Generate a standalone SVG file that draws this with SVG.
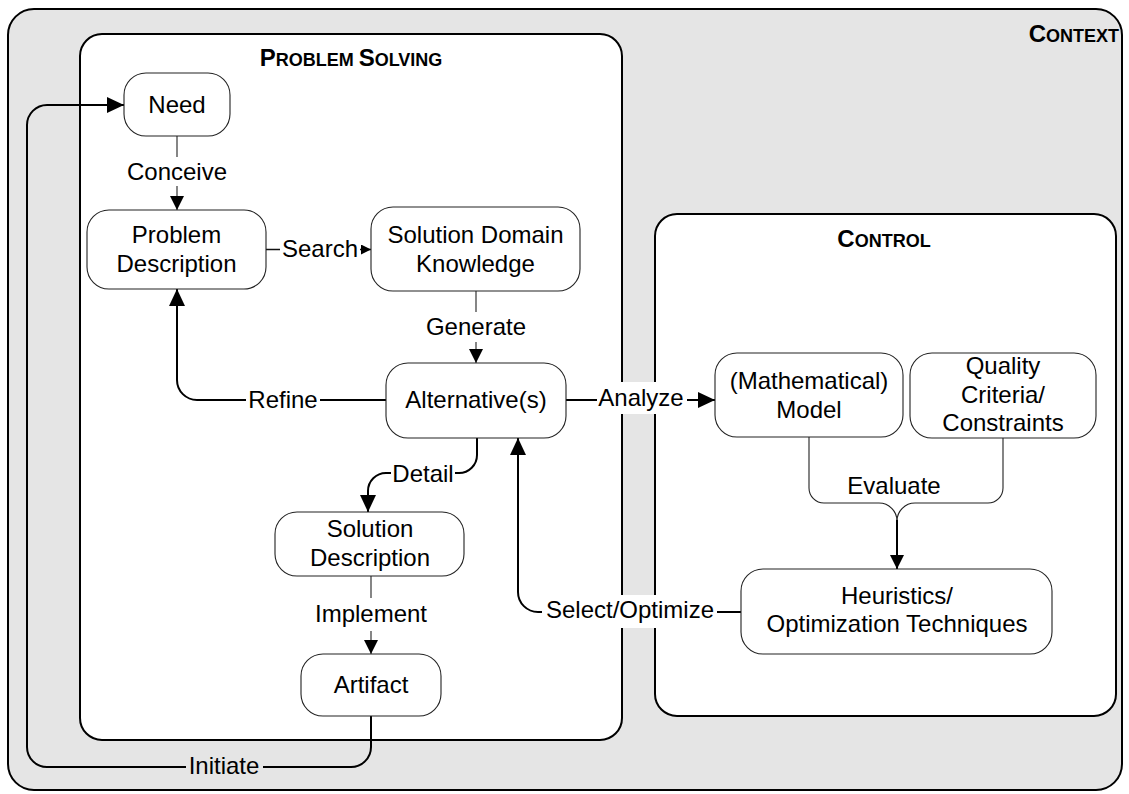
<svg xmlns="http://www.w3.org/2000/svg" width="1129" height="794" viewBox="0 0 1129 794">
  <style>
    .frame { fill: #fff; stroke: #000; stroke-width: 2; }
    .node { fill: #fff; stroke: #222; stroke-width: 1.1; }
    .t { font-family: "Liberation Sans", Arial, Helvetica, sans-serif; font-size: 24px; text-anchor: middle; fill: #000; }
    .title { font-family: "Liberation Sans", Arial, Helvetica, sans-serif; font-weight: bold; fill: #000; }
    .big { font-size: 24px; }
    .sc { font-size: 18px; }
    .thin { fill: none; stroke: #222; stroke-width: 1.1; }
    .thick { fill: none; stroke: #000; stroke-width: 2; }
    .mid { fill: none; stroke: #111; stroke-width: 1.5; }
    .lbl { fill: #fff; }
  </style>
  <defs>
    <marker id="arrowL" markerUnits="userSpaceOnUse" markerWidth="17" markerHeight="16" refX="17" refY="8" orient="auto">
      <path d="M0,0 L17,8 L0,16 Z" fill="#000"/>
    </marker>
    <marker id="arrowM" markerUnits="userSpaceOnUse" markerWidth="14" markerHeight="14" refX="14" refY="7" orient="auto">
      <path d="M0,0 L14,7 L0,14 Z" fill="#000"/>
    </marker>
    <marker id="arrowS" markerUnits="userSpaceOnUse" markerWidth="10" markerHeight="10" refX="10" refY="5" orient="auto">
      <path d="M0,0 L10,5 L0,10 Z" fill="#000"/>
    </marker>
  </defs>

  <!-- outer context frame -->
  <g id="context">
    <rect x="8" y="9" width="1114" height="781" rx="26" fill="#e5e5e5" stroke="#000" stroke-width="2"/>
    <text class="title" x="1119" y="42" text-anchor="end"><tspan class="big">C</tspan><tspan class="sc">ONTEXT</tspan></text>
  </g>

  <!-- problem solving container -->
  <g id="problem-solving">
    <rect class="frame" x="80" y="34" width="542" height="706" rx="22"/>
    <text class="title" x="351" y="66" text-anchor="middle"><tspan class="big">P</tspan><tspan class="sc">ROBLEM </tspan><tspan class="big">S</tspan><tspan class="sc">OLVING</tspan></text>
  </g>

  <!-- control container -->
  <g id="control">
    <rect class="frame" x="655" y="214" width="461" height="502" rx="22"/>
    <text class="title" x="884" y="247" text-anchor="middle"><tspan class="big">C</tspan><tspan class="sc">ONTROL</tspan></text>
  </g>

  <!-- connectors and their labels -->
  <g id="connectors">
    <!-- Conceive -->
    <path class="thin" d="M177,136 V210" marker-end="url(#arrowM)"/>
    <rect class="lbl" x="126" y="157" width="102" height="29"/>
    <text class="t" x="177" y="180">Conceive</text>

    <!-- Search -->
    <path class="mid" d="M266,249.5 H371" marker-end="url(#arrowS)"/>
    <rect class="lbl" x="280" y="235" width="80" height="29"/>
    <text class="t" x="320" y="257">Search</text>

    <!-- Generate -->
    <path class="thin" d="M476,291 V363" marker-end="url(#arrowM)"/>
    <rect class="lbl" x="425" y="312" width="102" height="30"/>
    <text class="t" x="476" y="335">Generate</text>

    <!-- Refine -->
    <path class="thick" d="M386,400 H197 A20,20 0 0 1 177,380 V289" marker-end="url(#arrowL)"/>
    <rect class="lbl" x="246" y="385" width="74" height="30"/>
    <text class="t" x="283" y="408">Refine</text>

    <!-- Analyze -->
    <path class="thick" d="M566,400 H715" marker-end="url(#arrowL)"/>
    <rect class="lbl" x="597" y="382" width="90" height="32"/>
    <text class="t" x="641" y="406">Analyze</text>

    <!-- Detail -->
    <path class="thick" d="M477,438 V455 A18,18 0 0 1 459,473 H386 A18,18 0 0 0 368,491 V512" marker-end="url(#arrowL)"/>
    <rect class="lbl" x="391" y="460" width="64" height="29"/>
    <text class="t" x="423" y="482">Detail</text>

    <!-- Implement -->
    <path class="thin" d="M371,576 V654" marker-end="url(#arrowM)"/>
    <rect class="lbl" x="313" y="598" width="116" height="33"/>
    <text class="t" x="371" y="622">Implement</text>

    <!-- Evaluate: two branches merging into one -->
    <path class="thin" d="M809,437 V488 A15,15 0 0 0 824,503 H879 A18,18 0 0 1 897,521"/>
    <path class="thin" d="M1003,438 V488 A15,15 0 0 1 988,503 H915 A18,18 0 0 0 897,521"/>
    <path class="thick" d="M897,520 V569" marker-end="url(#arrowM)"/>
    <text class="t" x="894" y="494">Evaluate</text>

    <!-- Select/Optimize -->
    <path class="thick" d="M741,612 H538 A20,20 0 0 1 518,592 V438" marker-end="url(#arrowL)"/>
    <rect class="lbl" x="542" y="595" width="175" height="33"/>
    <text class="t" x="630" y="618">Select/Optimize</text>

    <!-- Initiate -->
    <path class="thick" d="M371,716 V747 A20,20 0 0 1 351,767 H47 A20,20 0 0 1 27,747 V125 A20,20 0 0 1 47,105 H124" marker-end="url(#arrowL)"/>
    <rect x="186" y="752" width="77" height="30" fill="#e5e5e5"/>
    <text class="t" x="224" y="774">Initiate</text>
  </g>

  <!-- nodes -->
  <g id="need">
    <rect class="node" x="124" y="73" width="106" height="63" rx="22"/>
    <text class="t" x="177" y="113">Need</text>
  </g>
  <g id="problem-description">
    <rect class="node" x="87" y="210" width="179" height="79" rx="22"/>
    <text class="t" x="176.5" y="243">Problem</text>
    <text class="t" x="176.5" y="272">Description</text>
  </g>
  <g id="solution-domain-knowledge">
    <rect class="node" x="371" y="207" width="209" height="84" rx="22"/>
    <text class="t" x="475.5" y="243">Solution Domain</text>
    <text class="t" x="475.5" y="272">Knowledge</text>
  </g>
  <g id="alternatives">
    <rect class="node" x="386" y="363" width="180" height="75" rx="22"/>
    <text class="t" x="476" y="408">Alternative(s)</text>
  </g>
  <g id="solution-description">
    <rect class="node" x="275" y="512" width="189" height="64" rx="22"/>
    <text class="t" x="370" y="537">Solution</text>
    <text class="t" x="370" y="566">Description</text>
  </g>
  <g id="artifact">
    <rect class="node" x="301" y="654" width="140" height="62" rx="22"/>
    <text class="t" x="371" y="693">Artifact</text>
  </g>
  <g id="model">
    <rect class="node" x="715" y="353" width="188" height="84" rx="22"/>
    <text class="t" x="809" y="389">(Mathematical)</text>
    <text class="t" x="809" y="418">Model</text>
  </g>
  <g id="quality-criteria">
    <rect class="node" x="910" y="353" width="186" height="85" rx="22"/>
    <text class="t" x="1003" y="374">Quality</text>
    <text class="t" x="1003" y="402.5">Criteria/</text>
    <text class="t" x="1003" y="431">Constraints</text>
  </g>
  <g id="heuristics">
    <rect class="node" x="741" y="569" width="311" height="85" rx="22"/>
    <text class="t" x="897" y="604">Heuristics/</text>
    <text class="t" x="897" y="632">Optimization Techniques</text>
  </g>
</svg>
